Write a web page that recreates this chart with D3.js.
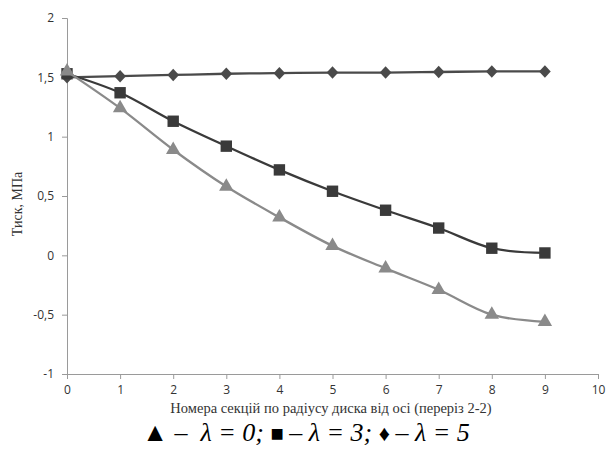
<!DOCTYPE html>
<html>
<head>
<meta charset="utf-8">
<script src="https://cdn.jsdelivr.net/npm/d3@7"></script>
<style>
  body { margin: 0; background: #fff; }
  .serif { font-family: "Liberation Serif", "DejaVu Serif", serif; }
</style>
</head>
<body>
<div id="chart"></div>
<script>
// section numbers along the disk radius
const sections = [0, 1, 2, 3, 4, 5, 6, 7, 8, 9]
// pressure, MPa
const lambda5 = [1.50, 1.51, 1.52, 1.53, 1.535, 1.54, 1.54, 1.545, 1.55, 1.55]
const lambda3 = [1.53, 1.37, 1.13, 0.92, 0.72, 0.54, 0.38, 0.23, 0.06, 0.02]
const lambda0 = [1.55, 1.24, 0.89, 0.58, 0.32, 0.08, -0.11, -0.29, -0.50, -0.56]
const xTicks = [0, 1, 2, 3, 4, 5, 6, 7, 8, 9, 10]
const yTicks = [-1, -0.5, 0, 0.5, 1, 1.5, 2]

var W = 607, H = 450
var margin = {top: 18, right: 9, bottom: 76, left: 67}

var svg = d3.select("#chart").append("svg")
  .attr("width", W).attr("height", H)

var x = d3.scaleLinear().domain([0, 10]).range([margin.left, W - margin.right])
var y = d3.scaleLinear().domain([-1, 2]).range([H - margin.bottom, margin.top])

var fmt = d => String(d).replace(".", ",")

// axes
var gx = svg.append("g")
  .attr("transform", "translate(0," + y(-1) + ")")
  .call(d3.axisBottom(x).tickValues(xTicks).tickSize(5).tickPadding(6).tickFormat(d => d))
var gy = svg.append("g")
  .attr("transform", "translate(" + x(0) + ",0)")
  .call(d3.axisLeft(y).tickValues(yTicks).tickSize(5).tickPadding(8).tickFormat(fmt))

svg.selectAll(".domain, .tick line").attr("stroke", "#9a9a9a")
svg.selectAll(".tick text")
  .attr("fill", "#333")
  .attr("font-family", "Open Sans, Liberation Sans, sans-serif")
  .attr("font-size", 12)

// axis titles
svg.append("text")
  .attr("class", "serif")
  .attr("x", 331).attr("y", 413)
  .attr("text-anchor", "middle")
  .attr("font-size", 14.5)
  .attr("fill", "#333")
  .text("Номера секцій по радіусу диска від осі (переріз 2-2)")

svg.append("text")
  .attr("class", "serif")
  .attr("transform", "translate(22,204) rotate(-90)")
  .attr("text-anchor", "middle")
  .attr("font-size", 14)
  .attr("fill", "#333")
  .text("Тиск, МПа")

var line = d3.line()
  .x((d, i) => x(sections[i]))
  .y(d => y(d))
  .curve(d3.curveCatmullRom.alpha(0.5))

var series = [
  {values: lambda5, color: "#4a4a4a", symbol: d3.symbolDiamond, size: 70},
  {values: lambda3, color: "#3a3a3a", symbol: d3.symbolSquare, size: 130},
  {values: lambda0, color: "#8a8a8a", symbol: d3.symbolTriangle, size: 90}
]

series.forEach(function(s) {
  svg.append("path")
    .attr("d", line(s.values))
    .attr("fill", "none")
    .attr("stroke", s.color)
    .attr("stroke-width", 2.3)

  svg.selectAll(null)
    .data(s.values).enter()
    .append("path")
    .attr("transform", (d, i) => "translate(" + x(sections[i]) + "," + y(d) + ")" +
      (s.symbol === d3.symbolDiamond ? " scale(1.3,0.8)" : ""))
    .attr("d", d3.symbol().type(s.symbol).size(s.size))
    .attr("fill", s.color)
})

// legend line
var leg = svg.append("text")
  .attr("class", "serif")
  .attr("x", 306).attr("y", 441)
  .attr("text-anchor", "middle")
  .attr("font-size", 26)
  .attr("fill", "#000")
  .attr("xml:space", "preserve")
leg.append("tspan").text("▲ ")
leg.append("tspan").attr("font-style", "italic").text("–  λ = 0; ")
leg.append("tspan").attr("font-size", 22).text("■ ")
leg.append("tspan").attr("font-style", "italic").text("– λ = 3; ")
leg.append("tspan").attr("font-size", 22).text("♦ ")
leg.append("tspan").attr("font-style", "italic").text("– λ = 5")
</script>
</body>
</html>
